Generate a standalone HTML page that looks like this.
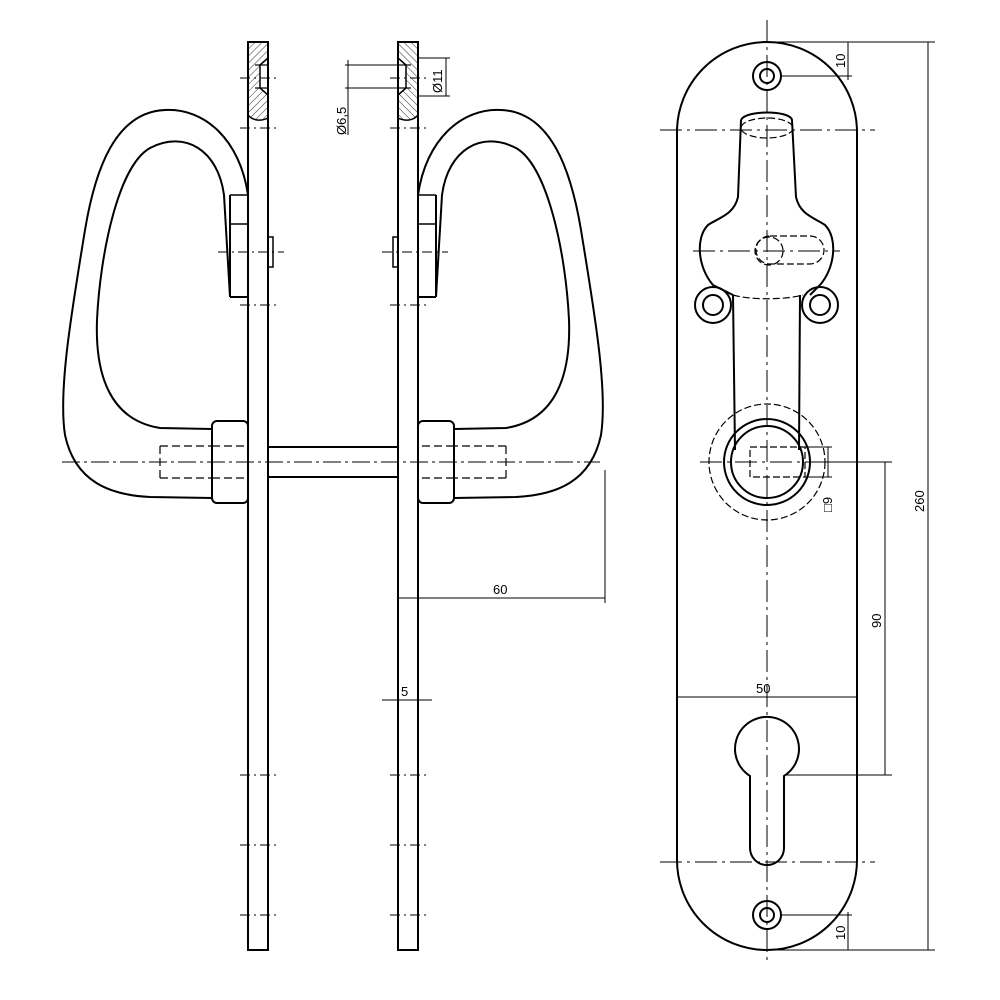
<!DOCTYPE html>
<html><head><style>html,body{margin:0;padding:0;background:#fff}svg{display:block}</style></head><body>
<svg width="1000" height="1000" viewBox="0 0 1000 1000" xmlns="http://www.w3.org/2000/svg" font-family="Liberation Sans, sans-serif">
<defs>
<pattern id="h" width="5" height="5" patternUnits="userSpaceOnUse" patternTransform="rotate(45)"><line x1="0" y1="0" x2="0" y2="5" stroke="#000" stroke-width="0.8"/></pattern>
<g id="handle" fill="none" stroke="#000" stroke-width="2">
<path d="M248,195 C240,140 205,108 165,110 C115,112 95,170 85,230 C72,310 58,390 65,435 C75,482 110,495 150,497 L212,498"/>
<path d="M230,297 L224,195 C218,150 185,130 150,148 C118,166 100,255 97,320 C95,375 110,420 160,428 L212,429"/>
<rect x="212" y="421" width="36" height="82" rx="5"/>
<line x1="230" y1="195" x2="230" y2="297"/><line x1="230" y1="297" x2="248" y2="297"/>
<line x1="230" y1="195" x2="248" y2="195" stroke-width="1.5"/><line x1="230" y1="224" x2="248" y2="224" stroke-width="1.5"/>
<rect x="268" y="237" width="5" height="30" stroke-width="1.5"/>
<rect x="248" y="42" width="20" height="908"/>
<path d="M248,42 L268,42 L268,58 L260,65 L260,88 L268,95 L268,118 C260,122 252,120 248,115 Z" fill="url(#h)" stroke-width="1.5"/>
<line x1="255" y1="65" x2="268" y2="65" stroke-width="1.2"/><line x1="255" y1="88" x2="268" y2="88" stroke-width="1.2"/>
<path d="M160,446 L212,446 M160,478 L212,478 M160,446 L160,478 M212,446 L248,446 M212,478 L248,478" stroke-width="1.2" stroke-dasharray="8 4"/>
</g>
</defs>
<use href="#handle"/>
<use href="#handle" transform="translate(666,0) scale(-1,1)"/>
<g fill="none" stroke="#000">
<line x1="268" y1="447" x2="398" y2="447" stroke-width="2"/><line x1="268" y1="477" x2="398" y2="477" stroke-width="2"/>
<line x1="62" y1="462" x2="600" y2="462" stroke-width="1" stroke-dasharray="18 4 3 4"/>
<g stroke-width="1" stroke-dasharray="10 4 2 4">
<line x1="240" y1="78" x2="276" y2="78"/><line x1="390" y1="78" x2="426" y2="78"/>
<line x1="240" y1="128" x2="276" y2="128"/><line x1="390" y1="128" x2="426" y2="128"/>
<line x1="218" y1="252" x2="284" y2="252"/><line x1="382" y1="252" x2="448" y2="252"/>
<line x1="240" y1="305" x2="276" y2="305"/><line x1="390" y1="305" x2="426" y2="305"/>
<line x1="240" y1="775" x2="276" y2="775"/><line x1="390" y1="775" x2="426" y2="775"/>
<line x1="240" y1="845" x2="276" y2="845"/><line x1="390" y1="845" x2="426" y2="845"/>
<line x1="240" y1="915" x2="276" y2="915"/><line x1="390" y1="915" x2="426" y2="915"/>
</g>
<g stroke-width="1">
<line x1="605" y1="470" x2="605" y2="603"/><line x1="398" y1="598" x2="605" y2="598"/>
<line x1="382" y1="700" x2="432" y2="700"/>
<line x1="345" y1="65" x2="400" y2="65"/><line x1="345" y1="88" x2="400" y2="88"/><line x1="348" y1="60" x2="348" y2="135"/>
<line x1="418" y1="58" x2="450" y2="58"/><line x1="418" y1="96" x2="450" y2="96"/><line x1="446" y1="58" x2="446" y2="96"/>
</g>
</g>
<g font-size="13" fill="#000">
<text x="493" y="594">60</text>
<text x="401" y="696">5</text>
<text transform="translate(346,135) rotate(-90)">Ø6,5</text>
<text transform="translate(442,93) rotate(-90)">Ø11</text>
</g>
<!-- right view -->
<g fill="none" stroke="#000" stroke-width="2">
<path d="M677,132 A90,90 0 0 1 857,132 L857,860 A90,90 0 0 1 677,860 Z"/>
<circle cx="767" cy="76" r="14"/><circle cx="767" cy="76" r="7"/>
<circle cx="767" cy="915" r="14"/><circle cx="767" cy="915" r="7"/>
<circle cx="713" cy="305" r="18"/><circle cx="713" cy="305" r="10"/>
<circle cx="820" cy="305" r="18"/><circle cx="820" cy="305" r="10"/>
<path d="M741,120 C745,110 790,110 792,120 L796,197 C800,215 815,218 825,225 C838,238 835,268 820,285 L810,295"/>
<path d="M741,120 L738,197 C734,215 718,218 708,225 C695,238 698,268 713,285 L733,295"/>
<line x1="733" y1="295" x2="735" y2="450"/><line x1="800" y1="295" x2="799" y2="450"/>
<circle cx="767" cy="462" r="43"/><circle cx="767" cy="462" r="36"/>
<path d="M750,776 A32,32 0 1 1 784,776 L784,848 A17,17 0 0 1 750,848 Z"/>
</g>
<g fill="none" stroke="#000" stroke-width="1.2" stroke-dasharray="7 3">
<ellipse cx="767" cy="128" rx="26" ry="10"/>
<circle cx="767" cy="462" r="58"/>
<rect x="750" y="447" width="55" height="30"/>
<path d="M770,236 L810,236 A14,14 0 0 1 810,264 L770,264 A14,14 0 0 1 770,236"/>
<circle cx="769" cy="251" r="14"/>
<path d="M733,295 C750,300 785,300 803,295"/>
</g>
<g fill="none" stroke="#000" stroke-width="1" stroke-dasharray="22 5 3 5">
<line x1="767" y1="20" x2="767" y2="965"/>
<line x1="660" y1="130" x2="875" y2="130"/>
<line x1="660" y1="862" x2="875" y2="862"/>
<line x1="693" y1="251" x2="840" y2="251"/>
<line x1="700" y1="462" x2="835" y2="462"/>
</g>
<g fill="none" stroke="#000" stroke-width="1">
<line x1="767" y1="42" x2="935" y2="42"/><line x1="767" y1="950" x2="935" y2="950"/><line x1="928" y1="42" x2="928" y2="950"/>
<line x1="780" y1="76" x2="852" y2="76"/><line x1="848" y1="42" x2="848" y2="80"/>
<line x1="780" y1="915" x2="852" y2="915"/><line x1="848" y1="912" x2="848" y2="950"/>
<line x1="808" y1="462" x2="892" y2="462"/><line x1="785" y1="775" x2="892" y2="775"/><line x1="885" y1="462" x2="885" y2="775"/>
<line x1="677" y1="697" x2="857" y2="697"/>
<line x1="805" y1="447" x2="832" y2="447"/><line x1="805" y1="477" x2="832" y2="477"/><line x1="828" y1="447" x2="828" y2="477"/>
</g>
<g font-size="13" fill="#000">
<text transform="translate(924,512) rotate(-90)">260</text>
<text transform="translate(881,628) rotate(-90)">90</text>
<text x="756" y="693">50</text>
<text transform="translate(845,68) rotate(-90)">10</text>
<text transform="translate(845,940) rotate(-90)">10</text>
<text transform="translate(832,512) rotate(-90)">□9</text>
</g>
</svg>
</body></html>
